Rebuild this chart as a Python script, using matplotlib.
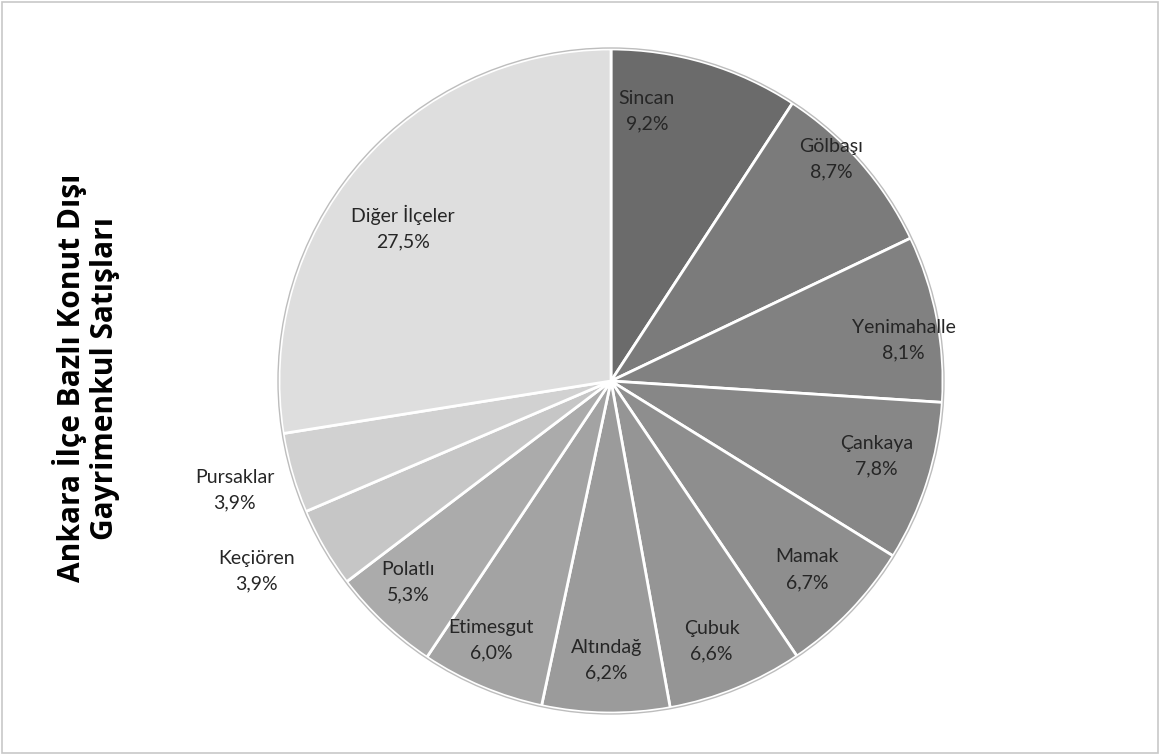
import numpy as np
import matplotlib.pyplot as plt
from matplotlib.patches import Rectangle

# Ankara ilçe bazlı konut dışı gayrimenkul satışları (%)
districts = ['Sincan', 'Gölbaşı', 'Yenimahalle', 'Çankaya', 'Mamak', 'Çubuk',
             'Altındağ', 'Etimesgut', 'Polatlı', 'Keçiören', 'Pursaklar', 'Diğer İlçeler']
shares = [9.2, 8.7, 8.1, 7.8, 6.7, 6.6, 6.2, 6.0, 5.3, 3.9, 3.9, 27.5]
pct_labels = ['9,2%', '8,7%', '8,1%', '7,8%', '6,7%', '6,6%',
              '6,2%', '6,0%', '5,3%', '3,9%', '3,9%', '27,5%']

colors = ['#6b6b6b', '#7b7b7b', '#818181', '#878787', '#8e8e8e', '#959595',
          '#9b9b9b', '#a3a3a3', '#ababab', '#c6c6c6', '#d1d1d1', '#dedede']

# label placement: radius (fraction of pie radius) and angle shift (deg)
label_r = [0.82, 0.94, 0.89, 0.83, 0.82, 0.84, 0.84, 0.86, 0.86, 1.21, 1.18, 0.78]
label_shift = [9, 4, -3, 2, 0, -1, 0, -2, -2, -2, 0, 4]

W, H = 1161, 756
cx, cy, R = 611, 375, 332

fig = plt.figure(figsize=(W / 100, H / 100), dpi=100)
ax = fig.add_axes([0, 0, 1, 1])

wedges, _ = ax.pie(shares, colors=colors, startangle=90, counterclock=False,
                   center=(cx, cy), radius=R, frame=True,
                   wedgeprops=dict(edgecolor='white', linewidth=2))
ax.set_xlim(0, W)
ax.set_ylim(0, H)
ax.set_aspect('equal')
ax.axis('off')

# outer rim
ax.add_patch(plt.Circle((cx, cy), R + 1, fill=False, edgecolor='#bdbdbd', linewidth=1))

for w, name, pct, rf, sh in zip(wedges, districts, pct_labels, label_r, label_shift):
    ang = np.deg2rad((w.theta1 + w.theta2) / 2 + sh)
    x = cx + rf * R * np.cos(ang)
    y = cy + rf * R * np.sin(ang)
    ax.text(x, y, name + '\n' + pct, ha='center', va='center', fontsize=14,
            family='Lato', color='#262626', linespacing=1.6)

fig.text(0.074, 0.5, 'Ankara İlçe Bazlı Konut Dışı\nGayrimenkul Satışları',
         rotation=90, ha='center', va='center', fontsize=21.5, fontweight='bold',
         family='Open Sans', color='black', linespacing=1.15)

fig.patches.append(Rectangle((0.002, 0.004), 0.995, 0.993, transform=fig.transFigure,
                             fill=False, edgecolor='#c8c8c8', linewidth=1.2))

fig.savefig('out.png', dpi=100, facecolor='white')
